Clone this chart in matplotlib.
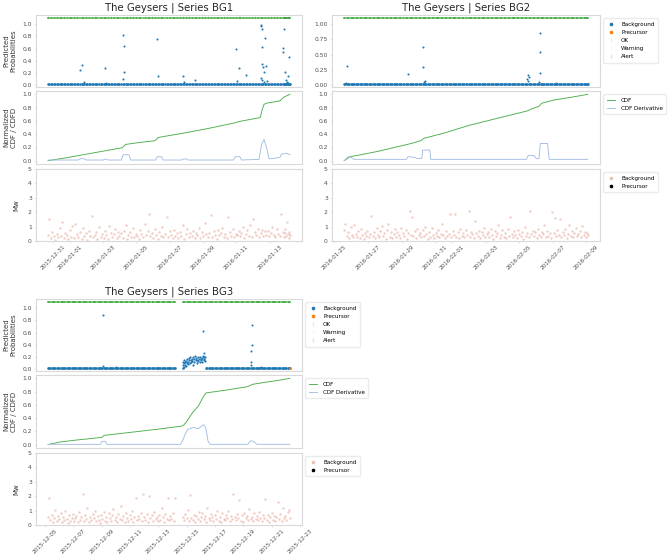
import matplotlib
matplotlib.use("Agg")
import matplotlib.pyplot as plt
import matplotlib.dates as mdates
from matplotlib.lines import Line2D
import numpy as np
import pandas as pd

# ---------------- data (times are days after each series' first event) ----------------
bg1_start = "2015-12-30 17:00"
bg1_t = [
    0.00, 0.08, 0.17, 0.24, 0.35, 0.42, 0.51, 0.58, 0.69, 0.77,
    0.85, 0.96, 1.03, 1.12, 1.20, 1.31, 1.38, 1.46, 1.57, 1.64,
    1.74, 1.82, 1.90, 2.01, 2.08, 2.18, 2.25, 2.36, 2.44, 2.52,
    2.63, 2.70, 2.79, 2.89, 2.96, 3.07, 3.15, 3.23, 3.33, 3.40,
    3.50, 3.59, 3.67, 3.77, 3.84, 3.94, 4.03, 4.11, 4.21, 4.28,
    4.38, 4.47, 4.55, 4.65, 4.72, 4.82, 4.91, 4.99, 5.09, 5.16,
    5.26, 5.35, 5.43, 5.53, 5.60, 5.70, 5.79, 5.87, 5.97, 6.04,
    6.14, 6.23, 6.31, 6.41, 6.48, 6.58, 6.67, 6.75, 6.85, 6.92,
    7.02, 7.11, 7.19, 7.29, 7.36, 7.46, 7.55, 7.63, 7.73, 7.80,
    7.90, 7.99, 8.07, 8.17, 8.24, 8.34, 8.43, 8.51, 8.61, 8.68,
    8.78, 8.87, 8.95, 9.05, 9.12, 9.22, 9.31, 9.39, 9.49, 9.56,
    9.66, 9.75, 9.83, 9.93, 10.00, 10.10, 10.19, 10.27, 10.37, 10.44,
    10.54, 10.63, 10.71, 10.81, 10.88, 10.98, 11.07, 11.15, 11.25, 11.32,
    11.42, 11.51, 11.59, 11.69, 11.76, 11.86, 11.95, 12.03, 12.13, 12.20,
    12.30, 12.39, 12.47, 12.57, 12.64, 12.74, 12.83, 12.91, 13.01, 13.08,
    13.18, 13.27, 13.35, 13.45, 13.52, 13.62, 13.71, 13.79, 13.89, 13.96,
    14.06, 14.12, 14.18, 14.23, 14.28, 14.33, 14.38, 14.42, 14.46, 14.50,
]
bg1_mw = [
    0.42, 1.50, 0.18, 0.65, 0.33, 0.08, 0.51, 0.27, 0.90, 0.36,
    1.30, 0.22, 0.58, 0.41, 0.12, 0.73, 0.30, 1.05, 0.19, 1.20,
    0.47, 0.26, 0.62, 0.15, 0.88, 0.35, 0.54, 0.09, 0.71, 0.38,
    1.75, 0.29, 0.44, 0.63, 0.17, 0.95, 0.31, 0.52, 0.24, 0.68,
    0.39, 0.13, 1.02, 0.57, 0.28, 0.46, 0.81, 0.20, 0.60, 0.34,
    0.55, 0.23, 0.70, 1.10, 0.16, 0.43, 0.61, 0.31, 0.92, 0.25,
    0.48, 0.37, 0.14, 0.79, 0.52, 0.27, 1.15, 0.40, 0.66, 1.85,
    0.33, 0.58, 0.21, 0.85, 0.44, 0.12, 0.63, 0.35, 0.97, 0.29,
    0.50, 1.70, 0.26, 0.69, 0.41, 0.18, 0.76, 0.32, 0.55, 0.22,
    0.64, 0.38, 1.08, 0.15, 0.47, 0.83, 0.28, 0.59, 0.36, 0.71,
    0.24, 0.53, 0.42, 0.90, 0.19, 0.62, 0.34, 1.25, 0.46, 0.27,
    0.58, 1.80, 0.31, 0.67, 0.43, 0.16, 0.74, 0.39, 0.55, 0.88,
    0.30, 0.49, 0.21, 1.70, 0.61, 0.37, 0.82, 0.26, 0.52, 0.44,
    0.69, 0.33, 0.57, 0.95, 0.20, 0.48, 0.73, 0.38, 1.12, 0.29,
    1.50, 0.62, 0.41, 0.86, 0.27, 0.54, 0.78, 0.35, 0.66, 0.45,
    0.71, 0.32, 0.59, 1.00, 0.43, 0.25, 0.84, 0.50, 0.37, 1.90,
    0.63, 0.28, 0.55, 0.80, 0.34, 1.30, 0.47, 0.22, 0.60, 0.39,
]
bg1_base_prob = 0.02
bg1_out_t = [1.91, 2.03, 2.13, 3.39, 3.49, 4.48, 4.56, 4.53, 4.48, 6.53, 6.57, 8.09, 8.15, 8.78,
             11.24, 11.44, 11.34, 11.89, 12.76, 12.78, 12.82, 12.80, 12.82, 12.86, 12.92, 13.02,
             13.06, 12.74, 12.84, 12.95, 13.12, 14.06, 14.10, 14.14, 14.22, 14.26, 14.46, 14.36,
             14.30, 14.40]
bg1_out_p = [0.25, 0.33, 0.045, 0.28, 0.04, 0.83, 0.65, 0.22, 0.09, 0.76, 0.15, 0.15, 0.05, 0.08,
             0.60, 0.28, 0.07, 0.17, 0.99, 0.97, 0.93, 0.62, 0.35, 0.29, 0.22, 0.78,
             0.31, 0.11, 0.08, 0.05, 0.06, 0.61, 0.55, 0.93, 0.21, 0.08, 0.46, 0.15,
             0.05, 0.04]
bg1_cdf_t = [0.0, 1.0, 2.0, 3.0, 4.0, 4.45, 4.65, 5.5, 6.40, 6.60, 8.0, 9.5, 11.2, 11.45,
             12.72, 12.85, 12.95, 13.15, 13.9, 14.15, 14.5]
bg1_cdf_v = [0.0, 0.04, 0.085, 0.13, 0.175, 0.195, 0.245, 0.275, 0.30, 0.35, 0.41, 0.48, 0.57, 0.59,
             0.65, 0.78, 0.85, 0.87, 0.90, 0.96, 1.0]
bg1_der_t = [0.0, 1.8, 1.95, 2.15, 2.3, 3.3, 3.45, 3.6, 4.4, 4.5, 4.85, 4.95, 6.45, 6.55, 6.8, 6.9,
             8.0, 8.1, 8.3, 8.4, 11.1, 11.25, 11.5, 11.6, 12.65, 12.8, 12.95, 13.1, 13.25, 13.4,
             13.9, 14.0, 14.3, 14.5]
bg1_der_v = [0.01, 0.01, 0.03, 0.03, 0.01, 0.01, 0.025, 0.01, 0.01, 0.09, 0.09, 0.01, 0.01, 0.06,
             0.06, 0.01, 0.01, 0.025, 0.025, 0.01, 0.01, 0.06, 0.06, 0.01, 0.02, 0.25, 0.32, 0.20,
             0.03, 0.03, 0.05, 0.10, 0.11, 0.09]

bg2_start = "2016-01-25 14:00"
bg2_t = [
    0.00, 0.06, 0.15, 0.21, 0.30, 0.38, 0.44, 0.53, 0.60, 0.68,
    0.77, 0.83, 0.92, 0.99, 1.07, 1.16, 1.22, 1.31, 1.38, 1.46,
    1.55, 1.61, 1.70, 1.77, 1.85, 1.94, 2.00, 2.09, 2.16, 2.24,
    2.33, 2.39, 2.48, 2.55, 2.63, 2.72, 2.78, 2.87, 2.94, 3.02,
    3.11, 3.17, 3.26, 3.33, 3.41, 3.50, 3.56, 3.65, 3.72, 3.80,
    3.89, 3.95, 4.04, 4.11, 4.19, 4.28, 4.34, 4.43, 4.50, 4.58,
    4.67, 4.73, 4.82, 4.89, 4.97, 5.06, 5.12, 5.21, 5.28, 5.36,
    5.45, 5.51, 5.60, 5.67, 5.75, 5.84, 5.90, 5.99, 6.06, 6.14,
    6.23, 6.29, 6.38, 6.45, 6.53, 6.62, 6.68, 6.77, 6.84, 6.92,
    7.01, 7.07, 7.16, 7.23, 7.31, 7.40, 7.46, 7.55, 7.62, 7.70,
    7.79, 7.85, 7.94, 8.01, 8.09, 8.18, 8.24, 8.33, 8.40, 8.48,
    8.57, 8.63, 8.72, 8.79, 8.87, 8.96, 9.02, 9.11, 9.18, 9.26,
    9.35, 9.41, 9.50, 9.57, 9.65, 9.74, 9.80, 9.89, 9.96, 10.04,
    10.13, 10.19, 10.28, 10.35, 10.43, 10.52, 10.58, 10.67, 10.74, 10.82,
    10.91, 10.97, 11.06, 11.13, 11.21, 11.30, 11.36, 11.45, 11.52, 11.60,
    11.69, 11.75, 11.84, 11.91, 11.99, 12.08, 12.14, 12.23, 12.30, 12.38,
    12.47, 12.53, 12.62, 12.69, 12.77, 12.86, 12.92, 13.01, 13.08, 13.16,
    13.25, 13.31, 13.40, 13.47, 13.55, 13.64, 13.70, 13.79, 13.86, 13.94,
    14.03, 14.09, 14.18, 14.25, 14.33, 14.40, 14.46, 14.50,
]
bg2_mw = [
    0.78, 1.20, 0.35, 0.62, 0.18, 0.95, 0.44, 0.27, 1.10, 0.51,
    0.30, 0.66, 0.21, 0.83, 0.40, 0.14, 0.57, 0.36, 0.72, 0.25,
    0.48, 1.75, 0.33, 0.61, 0.19, 0.88, 0.42, 0.29, 0.69, 1.05,
    0.38, 0.55, 0.16, 0.74, 1.20, 0.31, 0.60, 0.24, 0.47, 0.85,
    0.28, 0.64, 0.41, 0.20, 0.92, 0.53, 0.35, 0.77, 0.13, 0.58,
    2.10, 0.45, 1.70, 0.32, 0.68, 0.22, 0.81, 0.39, 0.56, 0.26,
    0.73, 0.34, 1.00, 0.49, 0.17, 0.63, 0.30, 0.87, 0.43, 0.23,
    0.59, 0.37, 0.76, 0.28, 0.52, 1.15, 0.40, 0.21, 0.66, 0.33,
    0.50, 1.85, 0.27, 0.70, 0.45, 1.90, 0.31, 0.62, 0.19, 0.84,
    0.36, 0.57, 0.25, 0.79, 0.42, 2.05, 0.30, 0.65, 0.48, 0.22,
    1.40, 0.54, 0.33, 0.71, 0.18, 0.60, 0.39, 0.90, 0.27, 0.47,
    0.63, 0.29, 0.82, 0.41, 0.15, 0.68, 0.35, 0.56, 1.08, 0.24,
    0.44, 0.75, 0.31, 0.58, 0.20, 0.86, 0.37, 1.65, 0.52, 0.28,
    0.67, 0.40, 0.23, 0.79, 0.46, 0.33, 0.61, 0.17, 0.94, 0.38,
    0.55, 0.26, 2.10, 0.49, 0.72, 0.32, 0.60, 0.21, 0.83, 0.43,
    0.30, 0.64, 0.47, 1.12, 0.25, 0.70, 0.36, 0.53, 0.19, 2.00,
    0.58, 1.60, 0.34, 0.77, 0.42, 1.50, 0.28, 0.62, 0.45, 0.81,
    0.23, 0.51, 1.10, 0.38, 0.66, 0.29, 0.57, 0.92, 0.35, 0.48,
    0.70, 0.26, 1.05, 0.44, 0.60, 0.31, 0.53, 0.40,
]
bg2_base_prob = 0.02
bg2_out_t = [0.14, 0.10, 3.79, 4.67, 4.67, 4.75, 4.80, 10.93, 11.0, 10.93, 10.90, 11.66, 11.66,
             11.68, 11.62, 12.6]
bg2_out_p = [0.32, 0.04, 0.18, 0.63, 0.30, 0.045, 0.06, 0.16, 0.135, 0.06, 0.09, 0.85, 0.54,
             0.20, 0.045, 0.03]
bg2_cdf_t = [0.0, 0.25, 1.0, 2.0, 3.0, 4.0, 4.6, 4.72, 6.0, 7.4, 9.3, 10.9, 11.1, 11.6, 11.75,
             12.5, 13.5, 14.5]
bg2_cdf_v = [0.0, 0.055, 0.09, 0.14, 0.20, 0.26, 0.305, 0.335, 0.42, 0.53, 0.65, 0.75, 0.775,
             0.82, 0.865, 0.915, 0.955, 1.0]
bg2_der_t = [0.0, 0.2, 0.37, 0.57, 3.7, 3.8, 4.2, 4.3, 4.62, 4.67, 5.1, 5.15, 10.85, 10.95, 11.3,
             11.45, 11.6, 11.67, 12.1, 12.2, 14.5]
bg2_der_v = [0.0, 0.03, 0.06, 0.02, 0.02, 0.06, 0.05, 0.035, 0.035, 0.16, 0.16, 0.02, 0.02, 0.08,
             0.075, 0.03, 0.03, 0.26, 0.26, 0.02, 0.02]

bg3_start = "2015-12-05 05:00"
bg3_t = [
    0.00, 0.09, 0.16, 0.27, 0.34, 0.44, 0.52, 0.61, 0.70, 0.78,
    0.88, 0.95, 1.05, 1.13, 1.22, 1.31, 1.39, 1.49, 1.56, 1.66,
    1.74, 1.83, 1.92, 2.00, 2.10, 2.17, 2.27, 2.35, 2.44, 2.53,
    2.61, 2.71, 2.78, 2.88, 2.96, 3.05, 3.14, 3.22, 3.32, 3.39,
    3.49, 3.57, 3.66, 3.75, 3.83, 3.93, 4.00, 4.10, 4.18, 4.27,
    4.36, 4.44, 4.54, 4.61, 4.71, 4.79, 4.88, 4.97, 5.05, 5.15,
    5.22, 5.32, 5.40, 5.49, 5.58, 5.66, 5.76, 5.83, 5.93, 6.01,
    6.10, 6.19, 6.27, 6.37, 6.44, 6.54, 6.62, 6.71, 6.80, 6.88,
    6.98, 7.05, 7.15, 7.23, 7.32, 7.41, 7.49, 7.59, 7.66, 7.76,
    7.84, 7.93, 8.02, 8.10, 8.20, 8.27, 8.37, 8.45, 8.54, 8.63,
    8.71, 8.81, 8.88, 8.95, 9.51, 9.60, 9.68, 9.78, 9.85, 9.95,
    10.03, 10.12, 10.21, 10.29, 10.39, 10.46, 10.56, 10.64, 10.73, 10.82,
    10.90, 11.00, 11.07, 11.17, 11.25, 11.34, 11.43, 11.51, 11.61, 11.68,
    11.78, 11.86, 11.95, 12.04, 12.12, 12.22, 12.29, 12.39, 12.47, 12.56,
    12.65, 12.73, 12.83, 12.90, 13.00, 13.08, 13.17, 13.26, 13.34, 13.44,
    13.51, 13.61, 13.69, 13.78, 13.87, 13.95, 14.05, 14.12, 14.22, 14.30,
    14.39, 14.48, 14.56, 14.66, 14.73, 14.83, 14.91, 15.00, 15.09, 15.17,
    15.27, 15.34, 15.44, 15.52, 15.61, 15.70, 15.78, 15.88, 15.95, 16.05,
    16.13, 16.22, 16.31, 16.39, 16.49, 16.56, 16.66, 16.74, 16.83, 16.92,
    17.00, 17.08,
]
bg3_mw = [
    0.55, 1.90, 0.32, 0.71, 0.18, 0.48, 1.05, 0.27, 0.63, 0.39,
    0.84, 0.21, 0.57, 0.35, 0.96, 0.43, 0.15, 0.68, 0.30, 0.52,
    0.77, 0.25, 0.46, 0.62, 0.19, 0.88, 0.37, 0.54, 2.15, 0.29,
    0.66, 0.41, 1.20, 0.23, 0.58, 0.34, 0.79, 0.47, 1.00, 0.26,
    0.60, 0.38, 0.13, 0.72, 0.45, 0.92, 0.31, 0.56, 0.20, 0.83,
    0.49, 0.28, 0.67, 1.10, 0.36, 0.59, 0.22, 0.75, 0.42, 1.30,
    0.33, 0.64, 0.18, 0.86, 0.51, 0.27, 0.70, 0.40, 0.95, 0.24,
    0.57, 1.90, 0.35, 0.62, 0.44, 0.80, 0.29, 2.15, 0.53, 0.38,
    0.73, 0.20, 2.00, 0.48, 0.66, 0.31, 0.89, 0.42, 0.58, 0.26,
    0.68, 0.37, 1.15, 0.54, 0.23, 0.77, 0.45, 1.85, 0.32, 0.61,
    0.40, 0.85, 0.27, 1.85, 0.59, 0.34, 0.78, 0.46, 1.05, 0.30,
    2.10, 0.52, 0.36, 0.71, 0.24, 0.63, 0.43, 0.90, 0.28, 0.55,
    0.81, 0.39, 0.60, 0.21, 1.20, 0.47, 0.33, 0.74, 0.56, 0.25,
    0.66, 0.42, 0.98, 0.30, 0.58, 0.19, 0.83, 0.45, 0.37, 0.70,
    0.52, 1.00, 0.28, 0.64, 0.41, 2.15, 0.55, 0.34, 0.79, 0.47,
    1.75, 0.31, 0.68, 0.23, 0.86, 0.49, 0.60, 0.37, 1.10, 0.44,
    0.57, 0.26, 0.80, 0.40, 0.63, 0.35, 0.92, 0.51, 0.29, 0.72,
    0.46, 1.80, 0.33, 0.67, 0.22, 0.59, 0.84, 0.38, 0.61, 0.27,
    0.54, 1.60, 0.42, 0.76, 0.31, 1.15, 0.48, 0.65, 0.36, 0.88,
    1.05, 0.50,
]
bg3_base_prob = 0.02
bg3_cluster_t = [9.52, 9.55, 9.58, 9.60, 9.63, 9.66, 9.70, 9.72, 9.75, 9.79,
                 9.82, 9.86, 9.90, 9.93, 9.97, 10.01, 10.04, 10.08, 10.12, 10.15,
                 10.19, 10.23, 10.27, 10.30, 10.34, 10.38, 10.42, 10.46, 10.50, 10.54,
                 10.58, 10.62, 10.66, 10.70, 10.74, 10.78, 10.82, 10.86, 10.90, 10.94,
                 10.98, 11.02, 11.06, 11.10]
bg3_cluster_p = [0.12, 0.06, 0.15, 0.09, 0.04, 0.11, 0.07, 0.13, 0.05, 0.10,
                 0.16, 0.08, 0.12, 0.18, 0.14, 0.09, 0.20, 0.15, 0.11, 0.17,
                 0.13, 0.19, 0.06, 0.16, 0.12, 0.21, 0.14, 0.18, 0.10, 0.15,
                 0.19, 0.13, 0.17, 0.11, 0.20, 0.16, 0.14, 0.18, 0.12, 0.21,
                 0.15, 0.17, 0.13, 0.19]
bg3_out_t = [3.85, 3.88, 4.78, 10.96, 11.0, 11.03, 14.41, 14.38, 14.35, 14.30, 14.33, 15.03]
bg3_out_p = [0.89, 0.045, 0.03, 0.62, 0.27, 0.19, 0.72, 0.39, 0.30, 0.12, 0.06, 0.03]
bg3_prec_t = [17.08]
bg3_prec_p = [0.02]
bg3_cdf_t = [0.0, 0.82, 2.0, 3.80, 3.95, 6.0, 8.0, 9.44, 9.6, 9.79, 10.26, 10.61, 10.96, 11.15,
             12.5, 14.1, 14.45, 15.5, 16.3, 17.08]
bg3_cdf_v = [0.0, 0.04, 0.07, 0.11, 0.14, 0.19, 0.24, 0.28, 0.30, 0.35, 0.50, 0.58, 0.72, 0.78,
             0.82, 0.875, 0.91, 0.945, 0.97, 1.0]
bg3_der_t = [0.0, 3.7, 3.8, 4.05, 4.15, 9.35, 9.5, 9.65, 9.85, 10.26, 10.61, 10.84, 11.0, 11.14,
             11.3, 11.45, 14.1, 14.3, 14.5, 14.75, 17.08]
bg3_der_v = [0.005, 0.005, 0.05, 0.05, 0.005, 0.005, 0.06, 0.14, 0.23, 0.26, 0.24, 0.28, 0.30,
             0.25, 0.05, 0.005, 0.005, 0.06, 0.05, 0.005, 0.005]

# ---------------- styling ----------------
W, H = 668, 555
OK_LEVEL = 1.1
C_BLUE, C_ORANGE, C_GREEN = "#1f77b4", "#ff7f0e", "#2ca02c"
C_DER = "#a3bde3"
C_MW = "#e39a88"
SPINE = "#d9d9d9"
TICKC = "#4d4d4d"
TICK_FS, DATE_FS, LAB_FS, LEG_FS, TITLE_FS = 4.3, 4.1, 5.0, 4.1, 7.3

plt.rcParams["font.family"] = ["DejaVu Sans"]
fig = plt.figure(figsize=(W / 100, H / 100), dpi=100)


def ax_at(x0, y0, x1, y1, **kw):
    return fig.add_axes([x0 / W, 1 - y1 / H, (x1 - x0) / W, (y1 - y0) / H], **kw)


def dt(start, days):
    return (pd.Timestamp(start) + pd.to_timedelta(np.asarray(days, float), unit="D")).to_numpy()


def style(ax):
    for s in ax.spines.values():
        s.set_color(SPINE)
        s.set_linewidth(0.8)
    ax.tick_params(labelsize=TICK_FS, colors=TICKC, length=1.5, width=0.5, pad=1.5)
    ax.tick_params(axis="both", color=SPINE)
    ax.set_facecolor("white")


def draw(name, start, t, mw, base_p, out_t, out_p, cdf_t, cdf_v, der_t, der_v,
         x0, x1, ytop, prob_ticks, legends, ylabels,
         cl_t=None, cl_p=None, pr_t=None, pr_p=None):
    a1 = ax_at(x0, ytop, x1, ytop + 72)
    a2 = ax_at(x0, ytop + 76, x1, ytop + 149, sharex=a1)
    a3 = ax_at(x0, ytop + 154, x1, ytop + 226, sharex=a1)
    for a in (a1, a2, a3):
        style(a)

    t = np.asarray(t, float)
    times = dt(start, t)
    # probabilities
    a1.scatter(times, np.full(len(t), OK_LEVEL), marker="s", s=1.5, lw=0,
               color=C_GREEN, alpha=0.6, zorder=2)
    if cl_t is not None:
        mask = (t < min(cl_t)) | (t > max(cl_t))
    else:
        mask = np.ones(len(t), bool)
    a1.scatter(times[mask], np.full(mask.sum(), base_p), s=3.5, lw=0, color=C_BLUE, zorder=3)
    a1.scatter(dt(start, out_t), out_p, s=2.2, lw=0, color=C_BLUE, zorder=3)
    if cl_t is not None:
        a1.scatter(dt(start, cl_t), cl_p, s=2.5, lw=0, color=C_BLUE, zorder=3)
    if pr_t is not None:
        a1.scatter(dt(start, pr_t), pr_p, s=2.5, lw=0, color=C_ORANGE, zorder=4)
    a1.set_yticks(prob_ticks)
    a1.set_title(f"The Geysers | Series {name}", fontsize=TITLE_FS, color="#262626", pad=3)

    # CDF
    a2.plot(dt(start, cdf_t), cdf_v, color=C_GREEN, lw=0.65, alpha=0.85, label="CDF")
    a2.plot(dt(start, der_t), der_v, color=C_DER, lw=0.65, label="CDF Derivative")
    a2.set_yticks([0.0, 0.2, 0.4, 0.6, 0.8, 1.0])

    # magnitudes
    a3.scatter(times, mw, s=3.0, lw=0, color=C_MW, alpha=0.5)
    a3.set_ylim(0, 5)
    a3.set_yticks([0, 1, 2, 3, 4, 5])

    a3.xaxis.set_major_locator(mdates.DayLocator(bymonthday=range(1, 32, 2)))
    a3.xaxis.set_major_formatter(mdates.DateFormatter("%Y-%m-%d"))
    plt.setp(a1.get_xticklabels(), visible=False)
    plt.setp(a2.get_xticklabels(), visible=False)
    a1.tick_params(axis="x", length=0)
    a2.tick_params(axis="x", length=0)
    a3.tick_params(axis="x", labelsize=DATE_FS, pad=1)
    for lab in a3.get_xticklabels():
        lab.set_rotation(45)
        lab.set_ha("center")

    if ylabels:
        a1.set_ylabel("Predicted\nProbabilities", fontsize=LAB_FS, color="#333333", labelpad=4)
        a2.set_ylabel("Normalized\nCDF / CDFD", fontsize=LAB_FS, color="#333333", labelpad=4)
        a3.set_ylabel("Mw", fontsize=LAB_FS, color="#333333", labelpad=6)

    if legends:
        lk = dict(loc="upper left", bbox_to_anchor=(1.0, 1.0), fontsize=LEG_FS, frameon=True,
                  edgecolor="#e6e6e6", handlelength=1.5, borderpad=0.6, labelspacing=0.55,
                  borderaxespad=0.6, handletextpad=1.0)
        h1 = [Line2D([], [], ls="", marker="o", ms=1.6, color=C_BLUE),
              Line2D([], [], ls="", marker="o", ms=1.6, color=C_ORANGE),
              Line2D([], [], ls="", marker="|", ms=2.5, color=C_GREEN, alpha=0.15),
              Line2D([], [], ls="", marker="|", ms=2.5, color="#e8d36a", alpha=0.15),
              Line2D([], [], ls="", marker="|", ms=2.5, color="#e06070", alpha=0.25)]
        a1.legend(h1, ["Background", "Precursor", "OK", "Warning", "Alert"], **lk)
        a2.legend(**lk)
        h3 = [Line2D([], [], ls="", marker="o", ms=1.6, color=C_MW, alpha=0.5),
              Line2D([], [], ls="", marker="o", ms=1.6, color="black")]
        a3.legend(h3, ["Background", "Precursor"], **lk)


draw("BG1", bg1_start, bg1_t, bg1_mw, bg1_base_prob, bg1_out_t, bg1_out_p,
     bg1_cdf_t, bg1_cdf_v, bg1_der_t, bg1_der_v,
     36, 302, 15, [0.0, 0.2, 0.4, 0.6, 0.8, 1.0], legends=False, ylabels=True)
draw("BG2", bg2_start, bg2_t, bg2_mw, bg2_base_prob, bg2_out_t, bg2_out_p,
     bg2_cdf_t, bg2_cdf_v, bg2_der_t, bg2_der_v,
     332, 600, 15, [0.0, 0.25, 0.5, 0.75, 1.0], legends=True, ylabels=False)
draw("BG3", bg3_start, bg3_t, bg3_mw, bg3_base_prob, bg3_out_t, bg3_out_p,
     bg3_cdf_t, bg3_cdf_v, bg3_der_t, bg3_der_v,
     36, 302, 299, [0.0, 0.2, 0.4, 0.6, 0.8, 1.0], legends=True, ylabels=True,
     cl_t=bg3_cluster_t, cl_p=bg3_cluster_p, pr_t=bg3_prec_t, pr_p=bg3_prec_p)

fig.savefig("out.png", dpi=100, facecolor="white")
